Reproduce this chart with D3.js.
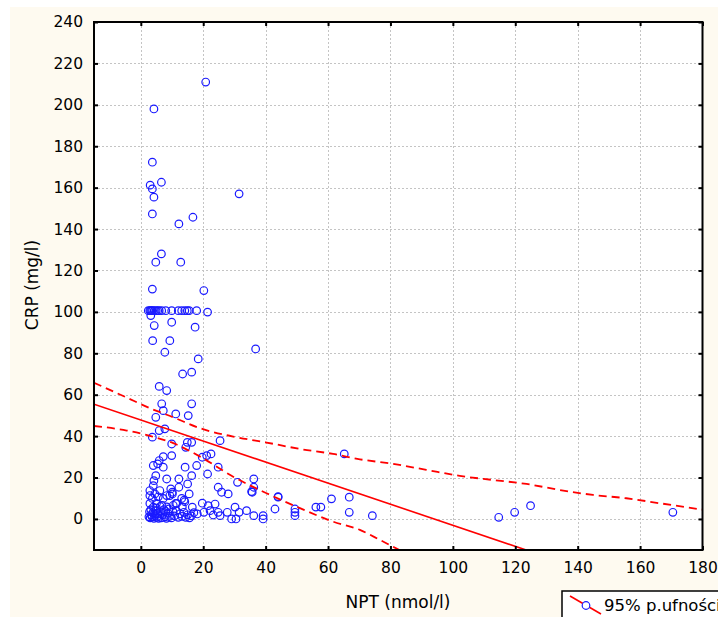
<!DOCTYPE html>
<html><head><meta charset="utf-8">
<script src="https://cdn.jsdelivr.net/npm/d3@7"></script>
<style>html,body{margin:0;padding:0;background:#fff;}svg{display:block;}</style>
</head><body>
<script>
// ---- data ----
const xTicks = [0,20,40,60,80,100,120,140,160,180];
const yTicks = [0,20,40,60,80,100,120,140,160,180,200,220,240];
const nptValues = [
20.8,4.2,3.7,3.0,3.7,4.2,6.6,3.7,31.5,12.2,16.7,4.8,6.6,12.8,3.7,20.2,
2.4,2.9,3.2,3.5,3.8,4.3,4.9,5.4,5.9,6.7,8.0,9.9,12.0,13.1,14.1,14.9,15.5,17.9,21.4,
3.2,4.3,9.9,17.4,3.8,9.3,7.7,18.4,36.8,13.4,16.3,
5.9,8.3,6.7,16.3,7.2,11.2,15.2,4.8,5.9,7.7,3.7,9.9,14.4,14.9,16.3,25.4,9.9,7.2,5.9,19.7,21.1,22.5,
4.0,5.4,7.2,14.2,17.9,24.8,4.8,8.3,12.2,16.3,21.4,31,36.2,36.2,35.7,4.2,4.0,12.2,15,24.8,25.9,28,
2.9,6.1,9.6,10.1,15.5,44,61.1,66.8,65.2,
43,49.4,49.4,49.4,56.1,57.7,66.8,33.9,36.2,39.2,39.2,29.1,30.5,30.2,31.5,27.7,25.4,23.8,24.8,19.7,21.6,22.2,20.2,18.1,16.5,23.2,
74.2,114.7,119.8,124.9,170.5,
2.9,4.0,5.0,6.8,8.3,10.4,11.5,13.3,14.1,13.1,13.9,8.3,7.2,5.6,3.7,2.9,4.5,11.2,9.3,10.1,
2.6,3.0,3.3,3.6,3.9,4.2,4.5,4.8,5.1,5.4,5.7,6.0,6.3,6.6,7.0,7.4,7.8,8.2,8.7,9.2,9.8,10.3,10.8,11.4,12.0,12.6,13.2,13.8,14.4,15.0,15.6,16.2,17.0,
3.2,5.0,9.0,6.2,2.8,4.4,8.0,35.5,44
];
const crpValues = [
211,198,172.3,161.2,159.4,155.4,162.6,147.3,157,142.5,145.7,124,128,124,111,110.3,
100.6,100.6,100.6,100.6,100.6,100.6,100.6,100.6,100.6,100.6,100.6,100.6,100.6,100.6,100.6,100.6,100.6,100.6,99.9,
98.2,93.4,95,92.6,86.1,86.1,80.5,77.3,82.1,70,70.9,
64,62,55.6,55.6,52.3,50.7,49.9,49.1,42.7,43.5,39.5,36.2,34.6,37,37,37.8,30.6,30.1,28.2,29.8,30.6,31.4,
25.8,26.6,25,25,25.8,25,20.9,19.3,19.3,20.9,21.7,17.7,19.3,15.3,12.9,18.5,16.1,15.3,16.9,15.3,12.9,12.1,
13.7,13.7,14.5,12.9,12.1,10.5,9.7,10.5,31.4,
4.8,4.8,3.2,1.6,5.7,5.7,3.2,4,1.6,1.6,0,0,0,5.7,3.2,3.2,1.6,7.2,3.2,7.6,6.4,4,3.2,2.4,5.7,1.9,
1.6,0.8,3.2,6.4,3.2,
7.5,5.7,7.5,6.6,5.8,6.6,7.5,5.8,8.3,9.9,9.1,11.3,9.9,10.7,9.9,11.3,12.1,7.5,11.3,12.1,
1,0.5,2,1,3,0.3,1.5,4,0.8,2.5,0.3,1.2,3.5,0.5,2,4.5,1,0.3,2.8,1.2,0.5,3.5,1.5,4,0.8,2.5,1.2,3.2,0.8,2,0.5,1.5,3,
4.5,5.2,4.8,6,3.5,2.6,3.6,13.2,10.8
];
const fitX = [-15, 123.5];
const fitY = [55.4, -15];
const upperX = [-15,-4.5,2.9,10.4,19,29.6,40.3,51,61.6,70.2,80.8,91.5,102.2,112.9,123.6,134.2,144.9,155.6,166.2,180];
const upperY = [65.8,58.6,53.5,49.1,43.8,39.8,36.9,33.8,31.4,28.8,26.6,23.7,20.8,18.8,16.9,14.0,11.6,10.0,7.6,4.5];
const lowerX = [-15,-4.5,2.9,10.4,19,29.6,40.3,51,61.6,70.2,76.6,82.8];
const lowerY = [44.9,42.7,40.1,36.6,30.1,20.4,12.4,5.2,-1.3,-5.3,-10.1,-15];
const xTitle = "NPT (nmol/l)";
const yTitle = "CRP (mg/l)";
const legendLabel = "95% p.ufności";

// ---- drawing ----
const W = 718, H = 617;
const L = 94, R = 702.5, T = 22, B = 550;
const svg = d3.select("body").append("svg").attr("width", W).attr("height", H);
svg.append("rect").attr("x",10).attr("y",7).attr("width",W-10).attr("height",H-7).attr("fill","#fefaf0");
svg.append("rect").attr("x",L).attr("y",T).attr("width",R-L).attr("height",B-T).attr("fill","#fff");

const x = d3.scaleLinear().domain([-15,180]).range([L,R]);
const y = d3.scaleLinear().domain([-15,240]).range([B,T]);
const font = "'DejaVu Sans', Verdana, sans-serif";

// grid
const grid = svg.append("g").attr("stroke","#c4c4c4").attr("stroke-width",1).attr("stroke-dasharray","2,2");
xTicks.filter(v=>v<180).forEach(v=>grid.append("line").attr("x1",Math.round(x(v))+0.5).attr("x2",Math.round(x(v))+0.5).attr("y1",T).attr("y2",B));
yTicks.filter(v=>v<240).forEach(v=>grid.append("line").attr("y1",Math.round(y(v))+0.5).attr("y2",Math.round(y(v))+0.5).attr("x1",L).attr("x2",R));

svg.append("clipPath").attr("id","pc").append("rect").attr("x",L).attr("y",T).attr("width",R-L).attr("height",B-T);
const plot = svg.append("g").attr("clip-path","url(#pc)");

// points
plot.append("g").selectAll("circle").data(nptValues.map((v,i)=>[v,crpValues[i]])).join("circle")
  .attr("cx",d=>x(d[0])).attr("cy",d=>y(d[1])).attr("r",3.8)
  .attr("fill","none").attr("stroke","#1a1aff").attr("stroke-width",1.2);

// fit line and bands
const line = d3.line().x(d=>x(d[0])).y(d=>y(d[1]));
const lineC = d3.line().x(d=>x(d[0])).y(d=>y(d[1])).curve(d3.curveMonotoneX);
plot.append("path").attr("d",line(fitX.map((v,i)=>[v,fitY[i]]))).attr("fill","none").attr("stroke","#ff0000").attr("stroke-width",1.6);
plot.append("path").attr("d",lineC(upperX.map((v,i)=>[v,upperY[i]]))).attr("fill","none").attr("stroke","#ff0000").attr("stroke-width",1.8).attr("stroke-dasharray","8,5");
plot.append("path").attr("d",lineC(lowerX.map((v,i)=>[v,lowerY[i]]))).attr("fill","none").attr("stroke","#ff0000").attr("stroke-width",1.8).attr("stroke-dasharray","8,5");

// frame
svg.append("rect").attr("x",L).attr("y",T).attr("width",R-L).attr("height",B-T).attr("fill","none").attr("stroke","#000").attr("stroke-width",2);

// axes with inside ticks
const axB = d3.axisBottom(x).tickValues(xTicks).tickSize(-4).tickPadding(12);
const gB = svg.append("g").attr("transform",`translate(0,${B})`).call(axB);
const axT = d3.axisTop(x).tickValues(xTicks).tickSize(-4).tickFormat("");
const gT = svg.append("g").attr("transform",`translate(0,${T})`).call(axT);
const axL = d3.axisLeft(y).tickValues(yTicks).tickSize(-4).tickPadding(11);
const gL = svg.append("g").attr("transform",`translate(${L},0)`).call(axL);
const axR = d3.axisRight(y).tickValues(yTicks).tickSize(-4).tickFormat("");
const gR = svg.append("g").attr("transform",`translate(${R},0)`).call(axR);
[gB,gT,gL,gR].forEach(g=>{
  g.select(".domain").remove();
  g.selectAll(".tick line").attr("stroke","#000").attr("stroke-width",2);
  g.selectAll("text").attr("font-family",font).attr("font-size",15.5).attr("fill","#000");
});

// titles
svg.append("text").attr("x",398).attr("y",608).attr("text-anchor","middle")
  .attr("font-family",font).attr("font-size",17).text(xTitle);
svg.append("text").attr("transform","translate(38,285) rotate(-90)").attr("text-anchor","middle")
  .attr("font-family",font).attr("font-size",17).text(yTitle);

// legend
const lg = svg.append("g");
lg.append("rect").attr("x",562).attr("y",591).attr("width",200).attr("height",60).attr("fill","#fff").attr("stroke","#000").attr("stroke-width",1.5);
lg.append("line").attr("x1",570).attr("y1",596).attr("x2",601).attr("y2",614).attr("stroke","#ff0000").attr("stroke-width",1.6);
lg.append("circle").attr("cx",586).attr("cy",605.5).attr("r",3.8).attr("fill","#fff").attr("stroke","#1a1aff").attr("stroke-width",1.2);
lg.append("text").attr("x",604).attr("y",611).attr("font-family",font).attr("font-size",16.5).text(legendLabel);
</script>
</body></html>
